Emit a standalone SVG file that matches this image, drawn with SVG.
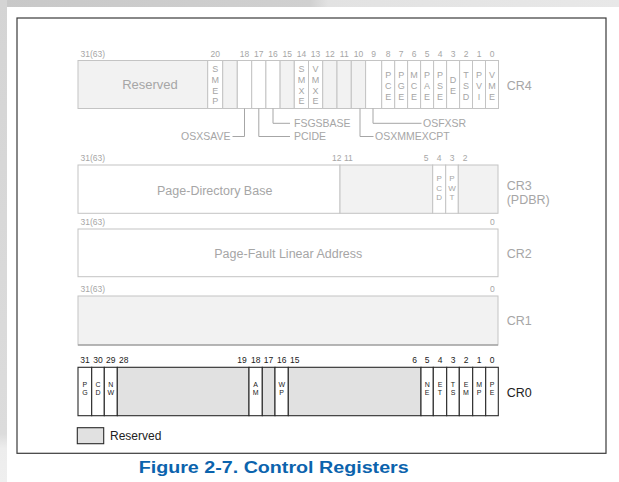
<svg xmlns="http://www.w3.org/2000/svg" width="619" height="482" viewBox="0 0 619 482">
<defs>
<linearGradient id="topband" x1="0" y1="0" x2="1" y2="0">
<stop offset="0" stop-color="#c8c8c8"/>
<stop offset="0.5" stop-color="#d0d0d0"/>
<stop offset="0.53" stop-color="#e2e2e2"/>
<stop offset="1" stop-color="#e8e8e8"/>
</linearGradient>
<linearGradient id="leftband" x1="0" y1="0" x2="0" y2="1">
<stop offset="0" stop-color="#d4d4d4"/>
<stop offset="0.9" stop-color="#dcdcdc"/>
<stop offset="0.93" stop-color="#ededed"/>
<stop offset="1" stop-color="#efefef"/>
</linearGradient>
<style>
text{font-family:"Liberation Sans",Arial,sans-serif}
.frame{fill:none;stroke:#3a3a3a;stroke-width:1.2}
.gw{fill:#ffffff;stroke:#c4c4c4;stroke-width:1}
.gr{fill:#f2f2f2;stroke:#c4c4c4;stroke-width:1}
.gt{fill:#a6a6a6}
.num{font-size:8.5px}
.ltr{font-size:9px;text-anchor:middle}
.ltr3{font-size:8px;text-anchor:middle}
.big{font-size:12.5px}
.lbl{font-size:10.5px}
.mid{text-anchor:middle}
.end{text-anchor:end}
.lead{fill:none;stroke:#a6a6a6;stroke-width:1}
.dw{fill:#ffffff;stroke:#2a2a2a;stroke-width:1.1}
.dr{fill:#e1e1e1;stroke:#2a2a2a;stroke-width:1.1}
.dt{fill:#222222}
.ltr0{font-size:7px;text-anchor:middle}
</style>
</defs>
<rect x="0" y="0" width="619" height="482" fill="#ffffff"/>
<rect x="0" y="0" width="619" height="7" fill="url(#topband)"/>
<rect x="0" y="0" width="7" height="482" fill="url(#leftband)"/>
<rect class="frame" x="17" y="18" width="589" height="435.3"/>

<g id="cr4">
<g class="gt num">
<text x="80.5" y="56.5">31(63)</text>
<text class="mid" x="215.2" y="56.5">20</text>
<text class="mid" x="244.5" y="56.5">18</text>
<text class="mid" x="258.8" y="56.5">17</text>
<text class="mid" x="273" y="56.5">16</text>
<text class="mid" x="287.2" y="56.5">15</text>
<text class="mid" x="301.4" y="56.5">14</text>
<text class="mid" x="315.6" y="56.5">13</text>
<text class="mid" x="329.9" y="56.5">12</text>
<text class="mid" x="344.2" y="56.5">11</text>
<text class="mid" x="358.5" y="56.5">10</text>
<text class="mid" x="373.7" y="56.5">9</text>
<text class="mid" x="388.2" y="56.5">8</text>
<text class="mid" x="401.2" y="56.5">7</text>
<text class="mid" x="414.1" y="56.5">6</text>
<text class="mid" x="427.1" y="56.5">5</text>
<text class="mid" x="440.1" y="56.5">4</text>
<text class="mid" x="453.1" y="56.5">3</text>
<text class="mid" x="466.1" y="56.5">2</text>
<text class="mid" x="479" y="56.5">1</text>
<text class="mid" x="492" y="56.5">0</text>
</g>
<rect class="gr" x="78" y="60.5" width="129.7" height="48"/>
<rect class="gw" x="207.7" y="60.5" width="15" height="48"/>
<rect class="gr" x="222.7" y="60.5" width="14.6" height="48"/>
<rect class="gw" x="237.3" y="60.5" width="14.4" height="48"/>
<rect class="gw" x="251.7" y="60.5" width="14.2" height="48"/>
<rect class="gw" x="265.9" y="60.5" width="14.2" height="48"/>
<rect class="gr" x="280.1" y="60.5" width="14.2" height="48"/>
<rect class="gw" x="294.3" y="60.5" width="14.2" height="48"/>
<rect class="gw" x="308.5" y="60.5" width="14.2" height="48"/>
<rect class="gr" x="322.7" y="60.5" width="14.3" height="48"/>
<rect class="gr" x="337" y="60.5" width="14.3" height="48"/>
<rect class="gr" x="351.3" y="60.5" width="14.3" height="48"/>
<rect class="gw" x="365.6" y="60.5" width="16.1" height="48"/>
<rect class="gw" x="381.7" y="60.5" width="13" height="48"/>
<rect class="gw" x="394.7" y="60.5" width="12.9" height="48"/>
<rect class="gw" x="407.6" y="60.5" width="13" height="48"/>
<rect class="gw" x="420.6" y="60.5" width="13" height="48"/>
<rect class="gw" x="433.6" y="60.5" width="13" height="48"/>
<rect class="gw" x="446.6" y="60.5" width="13" height="48"/>
<rect class="gw" x="459.6" y="60.5" width="12.9" height="48"/>
<rect class="gw" x="472.5" y="60.5" width="13" height="48"/>
<rect class="gw" x="485.5" y="60.5" width="13" height="48"/>
<text class="gt" x="150" y="88.5" text-anchor="middle" font-size="13">Reserved</text>
<g class="gt ltr">
<text><tspan x="215.2" y="72">S</tspan><tspan x="215.2" dy="10.8">M</tspan><tspan x="215.2" dy="10.8">E</tspan><tspan x="215.2" dy="10.8">P</tspan></text>
<text><tspan x="301.4" y="72">S</tspan><tspan x="301.4" dy="10.8">M</tspan><tspan x="301.4" dy="10.8">X</tspan><tspan x="301.4" dy="10.8">E</tspan></text>
<text><tspan x="315.6" y="72">V</tspan><tspan x="315.6" dy="10.8">M</tspan><tspan x="315.6" dy="10.8">X</tspan><tspan x="315.6" dy="10.8">E</tspan></text>
<text><tspan x="388.2" y="78">P</tspan><tspan x="388.2" dy="10.8">C</tspan><tspan x="388.2" dy="10.8">E</tspan></text>
<text><tspan x="401.2" y="78">P</tspan><tspan x="401.2" dy="10.8">G</tspan><tspan x="401.2" dy="10.8">E</tspan></text>
<text><tspan x="414.1" y="78">M</tspan><tspan x="414.1" dy="10.8">C</tspan><tspan x="414.1" dy="10.8">E</tspan></text>
<text><tspan x="427.1" y="78">P</tspan><tspan x="427.1" dy="10.8">A</tspan><tspan x="427.1" dy="10.8">E</tspan></text>
<text><tspan x="440.1" y="78">P</tspan><tspan x="440.1" dy="10.8">S</tspan><tspan x="440.1" dy="10.8">E</tspan></text>
<text><tspan x="453.1" y="83">D</tspan><tspan x="453.1" dy="10.8">E</tspan></text>
<text><tspan x="466.1" y="78">T</tspan><tspan x="466.1" dy="10.8">S</tspan><tspan x="466.1" dy="10.8">D</tspan></text>
<text><tspan x="479" y="78">P</tspan><tspan x="479" dy="10.8">V</tspan><tspan x="479" dy="10.8">I</tspan></text>
<text><tspan x="492" y="78">V</tspan><tspan x="492" dy="10.8">M</tspan><tspan x="492" dy="10.8">E</tspan></text>
</g>
<text class="gt big" x="506.7" y="90">CR4</text>
</g>

<g id="cr4-flags" class="gt lbl">
<text class="end" x="230.5" y="139.5">OSXSAVE</text>
<text x="294" y="139.5">PCIDE</text>
<text x="294" y="127">FSGSBASE</text>
<text x="375" y="139.5">OSXMMEXCPT</text>
<text x="423" y="127">OSFXSR</text>
</g>

<g id="connectors" class="lead">
<path d="M244.5 108.5 V136.5 H232.5"/>
<path d="M258.8 108.5 V136.5 H290"/>
<path d="M273 108.5 V123.3 H290"/>
<path d="M360 108.5 V136.5 H373.5"/>
<path d="M373 108.5 V123.3 H421.5"/>
</g>

<g id="cr3">
<g class="gt num">
<text x="80.5" y="160.5">31(63)</text>
<text class="mid" x="336.7" y="160.5">12</text>
<text class="mid" x="348.3" y="160.5">11</text>
<text class="mid" x="426" y="160.5">5</text>
<text class="mid" x="439.2" y="160.5">4</text>
<text class="mid" x="452" y="160.5">3</text>
<text class="mid" x="465" y="160.5">2</text>
</g>
<rect class="gw" x="78" y="165" width="262" height="48.3"/>
<rect class="gr" x="340" y="165" width="92.7" height="48.3"/>
<rect class="gw" x="432.7" y="165" width="13" height="48.3"/>
<rect class="gw" x="445.7" y="165" width="12.6" height="48.3"/>
<rect class="gr" x="458.3" y="165" width="39.7" height="48.3"/>
<text class="gt" x="214.7" y="194.5" text-anchor="middle" font-size="12.5">Page-Directory Base</text>
<g class="gt ltr3">
<text><tspan x="439.2" y="181">P</tspan><tspan x="439.2" y="190.5">C</tspan><tspan x="439.2" y="200">D</tspan></text>
<text><tspan x="452" y="181">P</tspan><tspan x="452" y="190.5">W</tspan><tspan x="452" y="200">T</tspan></text>
</g>
<text class="gt big" x="506.7" y="189.5">CR3</text>
<text class="gt big" x="506.7" y="203.5">(PDBR)</text>
</g>

<g id="cr2">
<text class="gt num" x="80.5" y="225">31(63)</text>
<text class="gt num mid" x="492.3" y="225">0</text>
<rect class="gw" x="78" y="229" width="420" height="47.7"/>
<text class="gt" x="288.3" y="258" text-anchor="middle" font-size="12.5">Page-Fault Linear Address</text>
<text class="gt big" x="506.7" y="258">CR2</text>
</g>

<g id="cr1">
<text class="gt num" x="80.5" y="291.5">31(63)</text>
<text class="gt num mid" x="492.3" y="291.5">0</text>
<rect class="gr" x="78" y="296" width="420" height="49"/>
<line x1="78" y1="345" x2="498" y2="345" stroke="#8c8c8c" stroke-width="1.2"/>
<text class="gt big" x="506.7" y="325">CR1</text>
</g>

<g id="cr0">
<g class="dt" font-size="8.5" text-anchor="middle">
<text x="84.9" y="363.3">31</text>
<text x="98" y="363.3">30</text>
<text x="110.8" y="363.3">29</text>
<text x="123.8" y="363.3">28</text>
<text x="242" y="363.3">19</text>
<text x="255.7" y="363.3">18</text>
<text x="268.6" y="363.3">17</text>
<text x="281.7" y="363.3">16</text>
<text x="294.8" y="363.3">15</text>
<text x="414.5" y="363.3">6</text>
<text x="427.2" y="363.3">5</text>
<text x="440" y="363.3">4</text>
<text x="453" y="363.3">3</text>
<text x="466" y="363.3">2</text>
<text x="479.2" y="363.3">1</text>
<text x="492" y="363.3">0</text>
</g>
<rect class="dw" x="78" y="367.3" width="13.7" height="48.4"/>
<rect class="dw" x="91.7" y="367.3" width="12.6" height="48.4"/>
<rect class="dw" x="104.3" y="367.3" width="13" height="48.4"/>
<rect class="dr" x="117.3" y="367.3" width="131.7" height="48.4"/>
<rect class="dw" x="249" y="367.3" width="13.3" height="48.4"/>
<rect class="dr" x="262.3" y="367.3" width="12.7" height="48.4"/>
<rect class="dw" x="275" y="367.3" width="13.3" height="48.4"/>
<rect class="dr" x="288.3" y="367.3" width="132.7" height="48.4"/>
<rect class="dw" x="421" y="367.3" width="12.3" height="48.4"/>
<rect class="dw" x="433.3" y="367.3" width="13.4" height="48.4"/>
<rect class="dw" x="446.7" y="367.3" width="12.6" height="48.4"/>
<rect class="dw" x="459.3" y="367.3" width="13.4" height="48.4"/>
<rect class="dw" x="472.7" y="367.3" width="13" height="48.4"/>
<rect class="dw" x="485.7" y="367.3" width="12.6" height="48.4"/>
<g class="dt ltr0">
<text><tspan x="84.9" y="387.3">P</tspan><tspan x="84.9" y="395.3">G</tspan></text>
<text><tspan x="98" y="387.3">C</tspan><tspan x="98" y="395.3">D</tspan></text>
<text><tspan x="110.8" y="387.3">N</tspan><tspan x="110.8" y="395.3">W</tspan></text>
<text><tspan x="255.7" y="387.3">A</tspan><tspan x="255.7" y="395.3">M</tspan></text>
<text><tspan x="281.7" y="387.3">W</tspan><tspan x="281.7" y="395.3">P</tspan></text>
<text><tspan x="427.2" y="387.3">N</tspan><tspan x="427.2" y="395.3">E</tspan></text>
<text><tspan x="440" y="387.3">E</tspan><tspan x="440" y="395.3">T</tspan></text>
<text><tspan x="453" y="387.3">T</tspan><tspan x="453" y="395.3">S</tspan></text>
<text><tspan x="466" y="387.3">E</tspan><tspan x="466" y="395.3">M</tspan></text>
<text><tspan x="479.2" y="387.3">M</tspan><tspan x="479.2" y="395.3">P</tspan></text>
<text><tspan x="492" y="387.3">P</tspan><tspan x="492" y="395.3">E</tspan></text>
</g>
<text class="dt big" x="506.7" y="397">CR0</text>
</g>

<g id="legend">
<rect class="dr" x="77.3" y="427.7" width="26.4" height="16"/>
<text class="dt" x="110" y="440" font-size="12">Reserved</text>
</g>

<text id="caption" x="273.7" y="472.5" text-anchor="middle" font-family="'Open Sans','Liberation Sans',sans-serif" font-weight="600" font-size="16" fill="#0b63ad" textLength="270" lengthAdjust="spacingAndGlyphs">Figure 2-7.  Control Registers</text>
</svg>
